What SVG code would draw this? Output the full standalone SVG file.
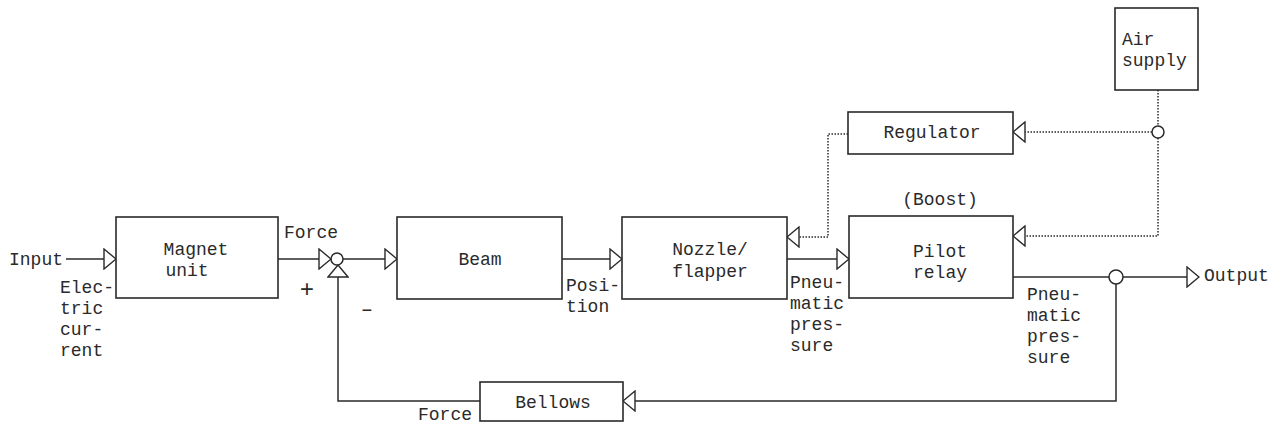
<svg xmlns="http://www.w3.org/2000/svg" width="1286" height="435" viewBox="0 0 1286 435">
<style>
.box{fill:#fff;stroke:#2a2a2a;stroke-width:1.6}
.ln{fill:none;stroke:#2a2a2a;stroke-width:1.5}
.dt{fill:none;stroke:#2a2a2a;stroke-width:1.5;stroke-dasharray:1.5 1.5}
.tri{fill:#fff;stroke:#2a2a2a;stroke-width:1.4}
.jn{fill:#fff;stroke:#2a2a2a;stroke-width:1.5}
text{font-family:"Liberation Mono","DejaVu Sans Mono",monospace;font-size:18px;fill:#2a2a2a;dominant-baseline:central}
.c{text-anchor:middle}
.sg{font-size:24px}
</style>
<defs>
<marker id="arr" viewBox="0 0 14 22" refX="13" refY="11" markerWidth="14" markerHeight="22" markerUnits="userSpaceOnUse" orient="auto">
<path class="tri" d="M1,1 L13,11 L1,21 Z"/>
</marker>
</defs>

<g id="connectors">
<line class="ln" x1="66" y1="259" x2="116" y2="259" marker-end="url(#arr)"/>
<line class="ln" x1="278" y1="259" x2="331" y2="259" marker-end="url(#arr)"/>
<line class="ln" x1="343" y1="259" x2="397" y2="259" marker-end="url(#arr)"/>
<line class="ln" x1="562" y1="259" x2="622" y2="259" marker-end="url(#arr)"/>
<line class="ln" x1="787" y1="259" x2="849" y2="259" marker-end="url(#arr)"/>
<line class="ln" x1="1013" y1="277" x2="1109" y2="277"/>
<line class="ln" x1="1123" y1="277" x2="1199" y2="277" marker-end="url(#arr)"/>
<polyline class="ln" points="1116,284 1116,401 623,401" marker-end="url(#arr)"/>
<polyline class="ln" points="480,401 338,401 338,265" marker-end="url(#arr)"/>
<line class="dt" x1="1158" y1="90" x2="1158" y2="126"/>
<polyline class="dt" points="1158,138 1158,236 1013,236" marker-end="url(#arr)"/>
<line class="dt" x1="1152" y1="132" x2="1013" y2="132" marker-end="url(#arr)"/>
<polyline class="dt" points="848,134 828,134 828,237 787,237" marker-end="url(#arr)"/>
<circle id="sum" class="jn" cx="337" cy="259" r="6"/>
<circle id="branch-out" class="jn" cx="1116" cy="277" r="7"/>
<circle id="branch-air" class="jn" cx="1158" cy="132" r="6"/>
</g>

<g id="magnet">
<rect class="box" x="116" y="217" width="162" height="81"/>
<text class="c" x="196" y="250">Magnet</text>
<text class="c" x="187" y="271">unit</text>
</g>
<g id="beam">
<rect class="box" x="397" y="217" width="165" height="82"/>
<text class="c" x="480" y="260">Beam</text>
</g>
<g id="nozzle">
<rect class="box" x="622" y="217" width="165" height="82"/>
<text class="c" x="710" y="250">Nozzle/</text>
<text class="c" x="710" y="272">flapper</text>
</g>
<g id="pilot">
<rect class="box" x="849" y="216" width="164" height="82"/>
<text class="c" x="940" y="252">Pilot</text>
<text class="c" x="940" y="273">relay</text>
<text class="c" x="940" y="200">(Boost)</text>
</g>
<g id="regulator">
<rect class="box" x="848" y="112" width="165" height="42"/>
<text class="c" x="932" y="133">Regulator</text>
</g>
<g id="air">
<rect class="box" x="1115" y="8" width="83" height="82"/>
<text x="1122" y="40">Air</text>
<text x="1122" y="61">supply</text>
</g>
<g id="bellows">
<rect class="box" x="480" y="382" width="143" height="39"/>
<text class="c" x="553" y="403">Bellows</text>
</g>

<g id="labels">
<text x="9" y="260">Input</text>
<text x="60" y="288">Elec-</text>
<text x="60" y="309">tric</text>
<text x="60" y="330">cur-</text>
<text x="60" y="351">rent</text>
<text x="284" y="233">Force</text>
<text class="sg c" x="307" y="290">+</text>
<text class="c" x="367" y="311">−</text>
<text x="566" y="286">Posi-</text>
<text x="566" y="307">tion</text>
<text x="790" y="283">Pneu-</text>
<text x="790" y="304">matic</text>
<text x="790" y="325">pres-</text>
<text x="790" y="346">sure</text>
<text x="1027" y="295">Pneu-</text>
<text x="1027" y="316">matic</text>
<text x="1027" y="337">pres-</text>
<text x="1027" y="358">sure</text>
<text x="1204" y="276">Output</text>
<text x="418" y="415">Force</text>
</g>
</svg>
